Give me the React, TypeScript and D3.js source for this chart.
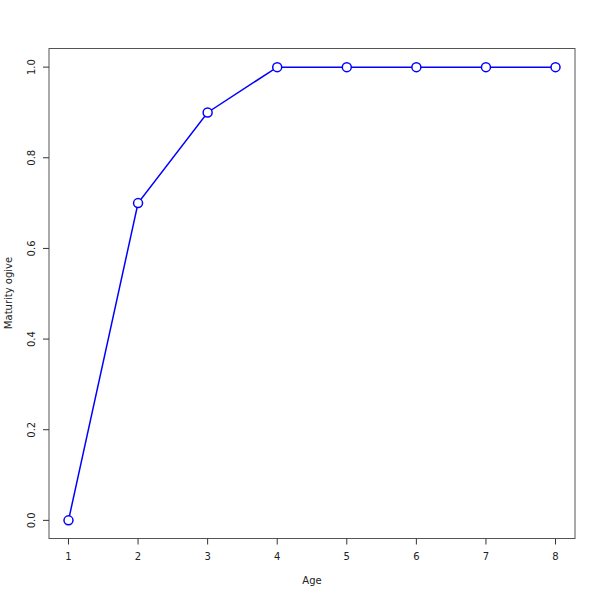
import React from "react";
import * as d3 from "d3";

const ages = [1, 2, 3, 4, 5, 6, 7, 8];
const maturity = [0, 0.7, 0.9, 1, 1, 1, 1, 1];
const xTicks = [1, 2, 3, 4, 5, 6, 7, 8];
const yTicks = [0, 0.2, 0.4, 0.6, 0.8, 1.0];

export default function App() {
  const W = 600, H = 600;
  const left = 49, right = 575, top = 48.5, bottom = 538.5;
  const x = d3.scaleLinear().domain([0.72, 8.28]).range([left, right]);
  const y = d3.scaleLinear().domain([-0.04, 1.04]).range([bottom, top + 0.5]);
  const pts = ages.map((a, i) => [a, maturity[i]] as [number, number]);
  const line = d3.line<[number, number]>().x(d => x(d[0])).y(d => y(d[1]));
  const font = "DejaVu Sans, sans-serif";
  return (
    <svg width={W} height={H} style={{ position: "absolute", left: 0, top: 0, background: "#fff" }}>
      <rect x={left} y={top} width={right - left} height={bottom - top} fill="none" stroke="#555" strokeWidth={1} />
      {xTicks.map(t => (
        <g key={t}>
          <line x1={x(t)} x2={x(t)} y1={bottom} y2={bottom + 6} stroke="#333" />
          <text x={x(t)} y={560} textAnchor="middle" fontSize={10} fontFamily={font} fill="#222">{t}</text>
        </g>
      ))}
      {yTicks.map(t => (
        <g key={t}>
          <line x1={left - 6} x2={left} y1={y(t)} y2={y(t)} stroke="#333" />
          <text transform={`translate(35,${y(t)}) rotate(-90)`} textAnchor="middle" fontSize={10} fontFamily={font} fill="#222">{t.toFixed(1)}</text>
        </g>
      ))}
      <text x={312} y={584} textAnchor="middle" fontSize={10} fontFamily={font} fill="#222">Age</text>
      <text transform={`translate(12,293) rotate(-90)`} textAnchor="middle" fontSize={10} fontFamily={font} fill="#222">Maturity ogive</text>
      <path d={line(pts) || ""} fill="none" stroke="#0000ff" strokeWidth={1.5} />
      {pts.map((p, i) => (
        <circle key={i} cx={x(p[0])} cy={y(p[1])} r={4.5} fill="#fff" stroke="#0000ff" strokeWidth={1.5} />
      ))}
    </svg>
  );
}
